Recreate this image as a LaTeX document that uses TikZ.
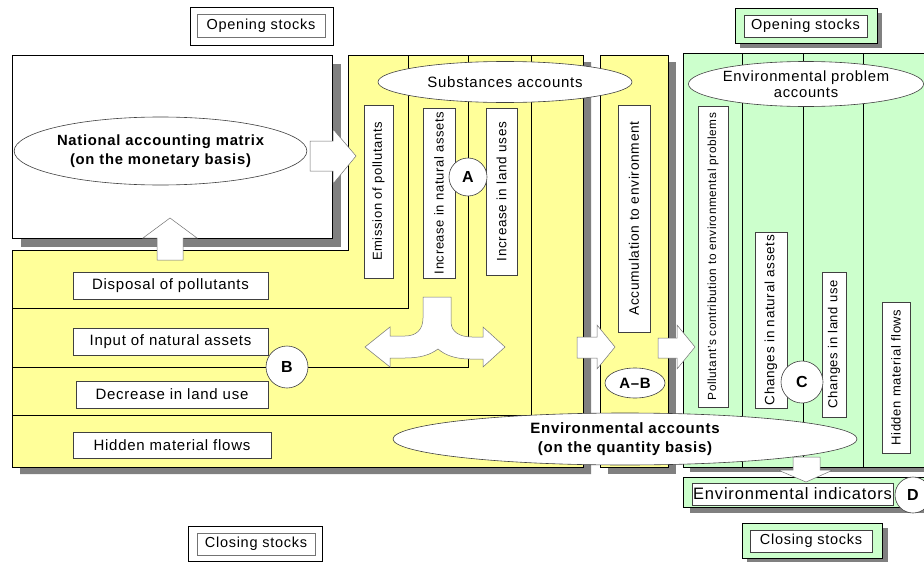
\documentclass[tikz,border=0pt]{standalone}
\usepackage{fontspec}
\setmainfont{Liberation Sans}[LetterSpace=5]
\usetikzlibrary{shapes.geometric}
\definecolor{ylw}{HTML}{FFFF99}
\definecolor{grn}{HTML}{CCFFCC}
\definecolor{shd}{HTML}{808080}
\begin{document}
\begin{tikzpicture}[x=1pt,y=-1pt,
  frame/.style={draw=black, line width=0.6pt},
  hbox/.style={draw=black!75, fill=white, line width=0.6pt, inner sep=0pt, font=\fontsize{15}{17}\selectfont},
  vbox/.style={hbox, rotate=90, font=\fontsize{13}{15}\selectfont},
  ell/.style={ellipse, draw=black!75, fill=white, line width=0.6pt, inner sep=0pt, align=center},
  tag/.style={circle, draw=black!75, fill=white, line width=0.6pt, inner sep=0pt, minimum size=40pt, font=\bfseries\fontsize{16}{18}\selectfont},
  fat/.style={draw=black!55, fill=white, line width=0.5pt, line join=miter}
]
\useasboundingbox (0,0) rectangle (924,562);
\fill[white] (0,0) rectangle (924,562);

% ---------- shadows ----------
\fill[shd] (21,64) rectangle (341,247);
\fill[shd] (20,257) -- (356,257) -- (356,62) -- (591,62) -- (591,474) -- (20,474) -- cycle;
\fill[shd] (608,62) rectangle (676,474);
\fill[shd] (690,60) rectangle (924,472);

% ---------- national accounting matrix ----------
\draw[frame, fill=white] (12,55) rectangle (332,238);

% ---------- main yellow block ----------
\draw[frame, fill=ylw] (12,250) -- (348,250) -- (348,55) -- (583,55) -- (583,467) -- (12,467) -- cycle;
\draw[line width=0.6pt] (12,308) -- (408,308) -- (408,55);
\draw[line width=0.6pt] (12,367) -- (468,367) -- (468,55);
\draw[line width=0.6pt] (12,415) -- (531,415) -- (531,55);

% ---------- second yellow column ----------
\draw[frame, fill=ylw] (600,55) rectangle (668,467);

% ---------- green block ----------
\fill[grn] (683,53) rectangle (924,467);
\draw[line width=0.6pt] (924,53) -- (683,53) -- (683,467) -- (924,467);
\draw[line width=0.6pt] (742,53) -- (742,467);
\draw[line width=0.6pt] (803,53) -- (803,467);
\draw[line width=0.6pt] (863,53) -- (863,467);

% ---------- opening / closing stocks ----------
\draw[frame, fill=white] (190,7) rectangle (333,45);
\node[hbox, draw=black!55, minimum width=128pt, minimum height=23pt, font=\fontsize{14.5}{16}\selectfont] (os1) at (261,25.5) {Opening stocks};
\fill[shd] (740,13) rectangle (882,48);
\draw[frame, fill=grn] (735,8) rectangle (877,43);
\node[hbox, minimum width=123pt, minimum height=22pt, font=\fontsize{14.5}{16}\selectfont] (os2) at (805.5,26) {Opening stocks};

\draw[frame, fill=white] (188,526) rectangle (322,561.5);
\node[hbox, draw=black!55, minimum width=118pt, minimum height=22pt, font=\fontsize{14.5}{16}\selectfont] (cs1) at (256,544) {Closing stocks};
\fill[shd] (747,528) rectangle (888,562);
\draw[frame, fill=grn] (742,523) rectangle (882,558);
\node[hbox, minimum width=122pt, minimum height=22pt, font=\fontsize{14.5}{16}\selectfont] (cs2) at (811,541) {Closing stocks};

% ---------- environmental indicators ----------
\fill[shd] (690,484) rectangle (924,513);
\fill[grn] (683,477) rectangle (924,507);
\draw[line width=0.6pt] (924,477) -- (683,477) -- (683,507) -- (924,507);
\node[hbox, minimum width=201pt, minimum height=22pt, font=\fontsize{16.5}{18}\selectfont] (ei) at (792.5,494) {Environmental indicators};

% ---------- row labels ----------
\node[hbox, minimum width=195pt, minimum height=27pt] (dp) at (170.5,285.5) {Disposal of pollutants};
\node[hbox, minimum width=195pt, minimum height=27pt] (ina) at (170.5,341.5) {Input of natural assets};
\node[hbox, minimum width=192pt, minimum height=27pt] (dlu) at (172,394.5) {Decrease in land use};
\node[hbox, minimum width=198pt, minimum height=26pt] (hmf) at (172,445) {Hidden material flows};

% ---------- vertical labels ----------
\node[vbox, minimum width=173pt, minimum height=29pt] (ep) at (378.5,191.5) {Emission of pollutants};
\node[vbox, minimum width=170pt, minimum height=32pt] (ian) at (439,193) {Increase in natural assets};
\node[vbox, minimum width=167pt, minimum height=31pt, font=\fontsize{13.5}{15}\selectfont] (ilu) at (501.5,191.5) {Increase in land uses};
\node[vbox, minimum width=227pt, minimum height=32pt, font=\fontsize{13.8}{15}\selectfont] (ae) at (634,218.5) {Accumulation to environment};
\node[vbox, minimum width=301pt, minimum height=30pt, font=\fontsize{11.8}{13}\selectfont] (pc) at (713,256.5) {Pollutant's contribution to environmental problems};
\node[vbox, minimum width=176pt, minimum height=32pt, font=\fontsize{13.5}{15}\selectfont] (cna) at (771,320) {Changes in natural assets};
\node[vbox, minimum width=145pt, minimum height=24pt] (clu) at (834,344.5) {Changes in land use};
\node[vbox, minimum width=151pt, minimum height=28pt] (hmf2) at (896,377.5) {Hidden material flows};

% ---------- arrows ----------
\draw[fat] (310,141) -- (333,141) -- (333,129) -- (356,156) -- (333,184) -- (333,171) -- (310,171) -- cycle;
\draw[fat] (157,260) -- (157,238) -- (143,238) -- (170,218) -- (197,238) -- (183,238) -- (183,260) -- cycle;
\draw[fat] (577,337) -- (597,337) -- (597,325) -- (615,347) -- (597,369) -- (597,358) -- (577,358) -- cycle;
\draw[fat] (658,338) -- (677,338) -- (677,325) -- (695,347) -- (677,369) -- (677,358) -- (658,358) -- cycle;
\draw[fat] (793,457) -- (820,457) -- (820,470) -- (833,470) -- (806,482) -- (778,470) -- (793,470) -- cycle;
\draw[fat] (423,297) -- (451,297) -- (451,322) .. controls (451,332) and (460,337) .. (472,337) -- (483,337) -- (483,327) -- (505,347) -- (483,367) -- (483,359) -- (470,359) .. controls (455,359) and (445,355) .. (438,349) .. controls (430,355) and (420,358) .. (405,358) -- (390,358) -- (390,367) -- (365,347) -- (390,327) -- (390,336) -- (405,336) .. controls (416,336) and (423,330) .. (423,318) -- cycle;

% ---------- ellipses ----------
\node[ell, minimum width=265pt, minimum height=68pt, font=\bfseries\fontsize{14.8}{19}\selectfont] (nam) at (160.5,151) {National accounting matrix\\(on the monetary basis)};
\node[ell, minimum width=254pt, minimum height=41pt, font=\fontsize{15}{17}\selectfont] (sa) at (505,82) {Substances accounts};
\node[ell, minimum width=223pt, minimum height=45pt, font=\fontsize{14.8}{16}\selectfont] (epa) at (806,84) {Environmental problem\\accounts};
\node[ell, minimum width=464pt, minimum height=52pt, font=\bfseries\fontsize{15}{19}\selectfont] (ea) at (625,439) {Environmental accounts\\(on the quantity basis)};
\node[ell, minimum width=60pt, minimum height=30pt, font=\bfseries\fontsize{15}{17}\selectfont] (ab) at (635,383) {A--B};

% ---------- tags ----------
\node[tag, minimum size=38pt] (A) at (468,177) {A};
\node[tag, minimum size=42pt] (B) at (287,367) {B};
\node[tag, minimum size=42pt] (C) at (802,382) {C};
\node[tag, minimum size=36pt] (D) at (913,495) {D};
\end{tikzpicture}
\end{document}
